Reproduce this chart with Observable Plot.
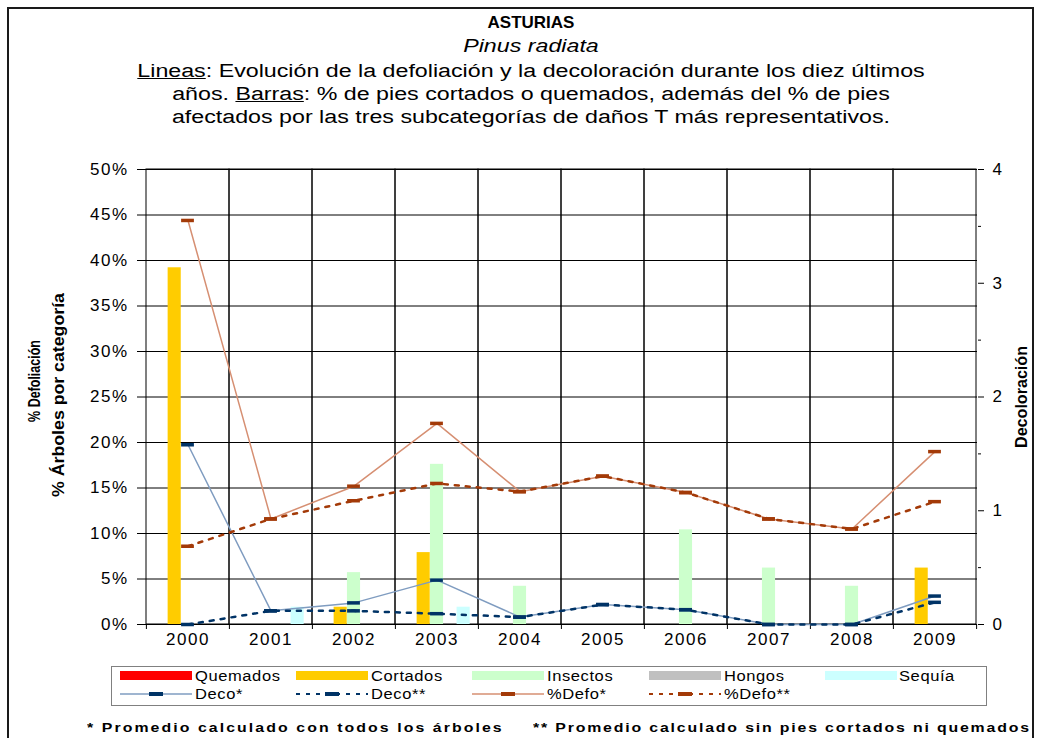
<!DOCTYPE html>
<html><head><meta charset="utf-8">
<script src="https://cdn.jsdelivr.net/npm/d3@7"></script>
<script src="https://cdn.jsdelivr.net/npm/@observablehq/plot@0.6"></script>
<style>
body{margin:0;background:#fff;font-family:"Liberation Sans",Arial,sans-serif;color:#000}
#wrap{position:relative;width:1038px;height:738px;overflow:hidden;background:#fff}
#frame{position:absolute;left:7px;top:7px;width:1027px;height:780px;border:2px solid #1a1a1a;box-sizing:border-box}
.t{position:absolute;left:0;width:1062px;text-align:center;white-space:nowrap;font-size:18px;line-height:23px;transform:scaleX(1.29);transform-origin:531px 50%}
#chart{position:absolute;left:0;top:150px}
#legend{position:absolute;left:111px;top:666px;width:876px;height:40px;border:1px solid #808080;box-sizing:border-box}
.li{position:absolute;font-size:14px;letter-spacing:0.5px;line-height:16px;white-space:nowrap;transform:scaleX(1.18);transform-origin:0 50%}
.sw{position:absolute;height:9px;width:72px}
.foot{position:absolute;top:720px;font-size:13px;font-weight:bold;letter-spacing:1.7px;white-space:nowrap;line-height:16px;transform:scaleX(1.22);transform-origin:0 50%}
</style></head>
<body><div id="wrap">
<div id="frame"></div>
<div class="t" style="top:11px;font-weight:bold;font-size:17px;transform:none">ASTURIAS</div>
<div class="t" style="top:35px;font-style:italic">Pinus radiata</div>
<div class="t" style="top:60px"><u>Lineas</u>: Evolución de la defoliación y la decoloración durante los diez últimos</div>
<div class="t" style="top:83px">años. <u>Barras</u>: % de pies cortados o quemados, además del % de pies</div>
<div class="t" style="top:106px">afectados por las tres subcategorías de daños T más representativos.</div>
<div id="chart"></div>
<div id="legend"></div>
<div class="foot" style="left:87px">* Promedio calculado con todos los árboles</div>
<div class="foot" style="left:533px;letter-spacing:1.5px">** Promedio calculado sin pies cortados ni quemados</div>
</div>
<script>
// ---- data ----
const years = [2000, 2001, 2002, 2003, 2004, 2005, 2006, 2007, 2008, 2009];
const quemados = [0, 0, 0, 0, 0, 0, 0, 0, 0, 0];
const cortados = [39.2, 0, 1.9, 7.9, 0, 0, 0, 0, 0, 6.2];
const insectos = [0, 0, 5.7, 17.6, 4.2, 0, 10.4, 6.2, 4.2, 0];
const hongos = [0, 0, 0, 0, 0, 0, 0, 0, 0, 0];
const sequia = [0, 1.9, 0, 1.9, 0, 0, 0, 0, 0, 0];
const decoTodos = [1.58, 0.12, 0.19, 0.39, 0.065, 0.175, 0.13, 0, 0, 0.25];
const decoSin = [0, 0.12, 0.12, 0.095, 0.065, 0.175, 0.13, 0, 0, 0.195];
const defoTodos = [44.4, 11.6, 15.2, 22.1, 14.6, 16.3, 14.5, 11.6, 10.5, 19.0];
const defoSin = [8.6, 11.6, 13.6, 15.5, 14.6, 16.3, 14.5, 11.6, 10.5, 13.5];
const leftTicks = [0, 5, 10, 15, 20, 25, 30, 35, 40, 45, 50];
const rightTicks = [0, 1, 2, 3, 4];
const rightMinor = [0.5, 1.5, 2.5, 3.5];
const barNames = ["Quemados", "Cortados", "Insectos", "Hongos", "Sequía"];
const barValues = [quemados, cortados, insectos, hongos, sequia];
const lineNames = ["Deco*", "Deco**", "%Defo*", "%Defo**"];

// ---- styles ----
const barColors = ["#ff0000", "#ffcc00", "#ccffcc", "#c0c0c0", "#ccffff"];
const lineStyle = [
  {line: "#7f9cc0", marker: "#003366", dash: null, w: 1.5},
  {line: "#003366", marker: "#003366", dash: "4,7", w: 2.5},
  {line: "#d68f72", marker: "#a33a08", dash: null, w: 1.5},
  {line: "#a33a08", marker: "#a33a08", dash: "4,7", w: 2.5}
];

const W = 1038, H = 500;
const mL = 145, mR = 61, mT = 19, mB = 26;
const band = (W - mL - mR) / years.length;
const pad = band * 0.1;
const bw = (band - 2 * pad) / 5;
const decoToPct = 50 / 4; // right axis 0-4 matches left axis 0-50%

const barRows = [];
barNames.forEach((name, k) => years.forEach((y, i) => barRows.push({year: y, cat: name, k, value: barValues[k][i]})));
const lineRows = years.map((y, i) => ({year: y, decoTodos: decoTodos[i], decoSin: decoSin[i], defoTodos: defoTodos[i], defoSin: defoSin[i]}));
const lineAcc = [
  d => d.decoTodos * decoToPct,
  d => d.decoSin * decoToPct,
  d => d.defoTodos,
  d => d.defoSin
];

const marks = [
  Plot.gridY(leftTicks, {stroke: "#000", strokeOpacity: 1, strokeWidth: 1}),
  Plot.barY(years, {x: d => d, y1: 0, y2: 50, fill: "none", stroke: "#000", strokeWidth: 1}),
  Plot.ruleX(years, {x: d => d, dx: -band / 2, y1: 0, insetBottom: -5, stroke: "#000"}),
  Plot.ruleX(years.slice(-1), {x: d => d, dx: band / 2, y1: 0, insetBottom: -5, stroke: "#000"})
];
barNames.forEach((name, k) => {
  marks.push(Plot.barY(barRows.filter(d => d.k === k && d.value > 0), {
    x: "year", y: "value", fill: barColors[k],
    insetLeft: pad + k * bw, insetRight: band - pad - (k + 1) * bw
  }));
});
lineAcc.forEach((acc, j) => {
  const s = lineStyle[j];
  marks.push(Plot.line(lineRows, {x: "year", y: acc, stroke: s.line, strokeWidth: s.w, strokeDasharray: s.dash}));
});
lineAcc.forEach((acc, j) => {
  const s = lineStyle[j];
  marks.push(Plot.tickY(lineRows, {x: "year", y: acc, stroke: s.marker, strokeWidth: 3.5,
    insetLeft: band / 2 - 6.5, insetRight: band / 2 - 6.5}));
});
marks.push(
  Plot.axisY({anchor: "left", ticks: leftTicks, tickFormat: d => d + "%", tickSize: 8, tickPadding: 9, label: null, fontSize: 17}),
  Plot.axisY({anchor: "right", ticks: rightTicks.map(v => v * decoToPct), tickFormat: d => String(d / decoToPct), tickSize: 6, tickPadding: 9, label: null, fontSize: 17}),
  Plot.axisY({anchor: "right", ticks: rightMinor.map(v => v * decoToPct), tickFormat: () => "", tickSize: 3, label: null}),
  Plot.axisX({tickSize: 0, tickPadding: 8, tickFormat: d => String(d), label: null, fontSize: 17})
);

const chart = Plot.plot({
  width: W, height: H,
  marginLeft: mL, marginRight: mR, marginTop: mT, marginBottom: mB,
  style: {fontFamily: "'Liberation Sans', Arial, sans-serif", fontSize: "17px", color: "#000", background: "transparent", overflow: "visible"},
  x: {type: "band", domain: years, paddingInner: 0, paddingOuter: 0, axis: null},
  y: {domain: [0, 50], axis: null},
  marks
});
document.getElementById("chart").appendChild(chart);

const svg = d3.select(chart);
svg.selectAll("g[aria-label='y-axis tick label'] text, g[aria-label='x-axis tick label'] text").attr("letter-spacing", "1.5px");
const addLabel = (txt, x, y, len) => {
  const t = svg.append("text")
    .attr("text-anchor", "middle").attr("dominant-baseline", "central")
    .attr("font-weight", "bold").attr("font-size", 16)
    .attr("fill", "#000").text(txt);
  const natural = t.node().getComputedTextLength() || len;
  t.attr("transform", `translate(${x},${y}) rotate(-90) scale(${len / natural},1)`);
};
addLabel("% Defoliación", 34, 381 - 150, 82);
addLabel("% Árboles por categoría", 59, 395 - 150, 204);
addLabel("Decoloración", 1021, 397 - 150, 102);

// ---- legend ----
const lg = document.getElementById("legend");
const colX = [120, 296, 472, 649, 825];
const txtX = [195, 371, 547, 724, 899];
barNames.forEach((name, k) => {
  const sw = document.createElement("div");
  sw.className = "sw";
  sw.style.left = (colX[k] - 112) + "px"; sw.style.top = (671 - 667) + "px"; sw.style.background = barColors[k];
  lg.appendChild(sw);
  const t = document.createElement("div");
  t.className = "li"; t.textContent = name;
  t.style.left = (txtX[k] - 112) + "px"; t.style.top = (668 - 667) + "px";
  lg.appendChild(t);
});
lineNames.forEach((name, j) => {
  const s = lineStyle[j];
  const ns = "http://www.w3.org/2000/svg";
  const sv = document.createElementNS(ns, "svg");
  sv.setAttribute("width", 72); sv.setAttribute("height", 10);
  sv.style.position = "absolute"; sv.style.left = (colX[j] - 112) + "px"; sv.style.top = (689 - 667) + "px";
  const ln = document.createElementNS(ns, "line");
  ln.setAttribute("x1", 0); ln.setAttribute("x2", 72); ln.setAttribute("y1", 5); ln.setAttribute("y2", 5);
  ln.setAttribute("stroke", s.line); ln.setAttribute("stroke-width", s.dash ? 2 : 1.5);
  if (s.dash) ln.setAttribute("stroke-dasharray", "4,6");
  sv.appendChild(ln);
  const mk = document.createElementNS(ns, "rect");
  mk.setAttribute("x", 29); mk.setAttribute("y", 3); mk.setAttribute("width", 14); mk.setAttribute("height", 4);
  mk.setAttribute("fill", s.marker);
  sv.appendChild(mk);
  lg.appendChild(sv);
  const t = document.createElement("div");
  t.className = "li"; t.textContent = name;
  t.style.left = (txtX[j] - 112) + "px"; t.style.top = (686 - 667) + "px";
  lg.appendChild(t);
});
</script>
</body></html>
